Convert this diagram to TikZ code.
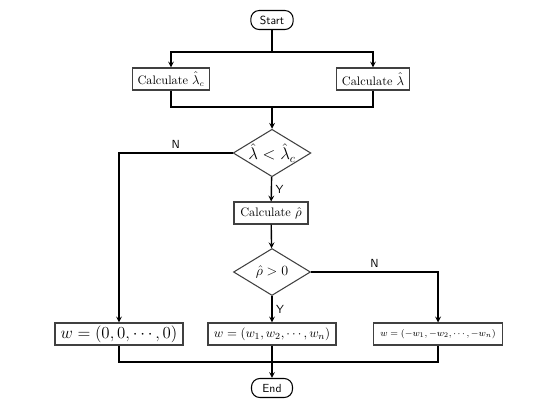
\documentclass[tikz,border=0pt]{standalone}
\usepackage{pgf}
\usepackage{tikz}
\usepackage{xcolor}
\usetikzlibrary{arrows,shapes.geometric,positioning}

\begin{document}
\begin{tikzpicture}[x=0.03cm,y=-0.03cm,
  box/.style={rectangle,draw=black!75,line width=0.9pt,minimum height=0.66cm,inner sep=2pt,font=\fontsize{10.5}{12}\selectfont},
  term/.style={rectangle,rounded corners=2.5mm,draw=black,line width=0.9pt,minimum height=0.57cm,minimum width=1.27cm,font=\sffamily},
  decide/.style={diamond,draw=black!75,line width=0.9pt,minimum width=2.31cm,minimum height=1.41cm,inner sep=0pt,aspect=1.64},
  flow/.style={line width=1.2pt,-stealth},
  link/.style={line width=1.2pt},
  tag/.style={font=\sffamily,inner sep=3pt}]
\useasboundingbox (0,0) rectangle (545,409);
\node (start) at (272,20) [term]{Start};
\coordinate (split) at (272,52);
\node (calclc) at (171,79) [box,minimum width=2.31cm]{Calculate $\hat\lambda_c$};
\node (calcl) at (373,79) [box,minimum width=2.19cm]{Calculate $\hat\lambda$};
\coordinate (join) at (272,107);
\node (test) at (272,153) [decide,font=\Large]{$\hat\lambda<\hat\lambda_c$};
\node (calcr) at (271,213) [box,minimum width=2.22cm]{Calculate $\hat\rho$};
\node (sign) at (272,272) [decide,font=\large]{$\hat\rho>0$};
\node (wzero) at (119,334) [box,minimum width=3.84cm,font=\Large]{$w=(0,0,\cdots,0)$};
\node (wplus) at (272,334) [box,minimum width=3.84cm,font=\fontsize{11}{13}\selectfont]{$w=(w_1,w_2,\cdots,w_n)$};
\node (wminus) at (438,334) [box,minimum width=3.87cm,font=\fontsize{8.5}{10}\selectfont]{$w=(-w_1,-w_2,\cdots,-w_n)$};
\coordinate (merge) at (272,362);
\node (end) at (272,388) [term,minimum width=1.23cm]{End};
% top part
\draw[link] (start) to (split);
\draw[flow] (split) -| (calclc);
\draw[flow] (split) -| (calcl);
\draw[link] (calclc) |- (join) -| (calcl);
\draw[flow] (join) to (test);
% decisions
\draw[flow] (test) to node[right,tag]{Y} (calcr);
\draw[flow] (test) -| node[pos=0.25,above,tag]{N} (wzero);
\draw[flow] (calcr) to (sign);
\draw[flow] (sign) to node[right,tag]{Y} (wplus);
\draw[flow] (sign) -| node[pos=0.25,above,tag]{N} (wminus);
% bottom part
\draw[link] (wzero) |- (merge) -| (wminus);
\draw[flow] (wplus) to (end);
\end{tikzpicture}
\end{document}
